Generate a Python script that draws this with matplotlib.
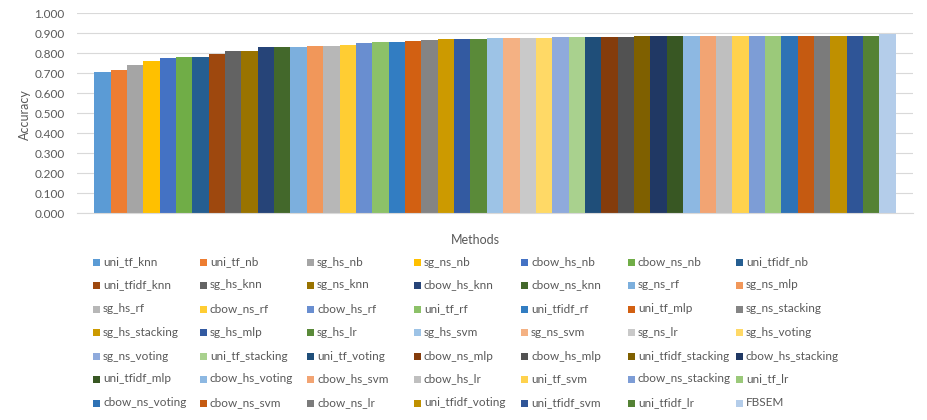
import matplotlib
matplotlib.use('Agg')
import numpy as np
from matplotlib import pyplot as plt
from matplotlib.patches import Rectangle

methods = ['uni_tf_knn', 'uni_tf_nb', 'sg_hs_nb', 'sg_ns_nb', 'cbow_hs_nb', 'cbow_ns_nb', 'uni_tfidf_nb',
           'uni_tfidf_knn', 'sg_hs_knn', 'sg_ns_knn', 'cbow_hs_knn', 'cbow_ns_knn', 'sg_ns_rf', 'sg_ns_mlp',
           'sg_hs_rf', 'cbow_ns_rf', 'cbow_hs_rf', 'uni_tf_rf', 'uni_tfidf_rf', 'uni_tf_mlp', 'sg_ns_stacking',
           'sg_hs_stacking', 'sg_hs_mlp', 'sg_hs_lr', 'sg_hs_svm', 'sg_ns_svm', 'sg_ns_lr', 'sg_hs_voting',
           'sg_ns_voting', 'uni_tf_stacking', 'uni_tf_voting', 'cbow_ns_mlp', 'cbow_hs_mlp', 'uni_tfidf_stacking', 'cbow_hs_stacking',
           'uni_tfidf_mlp', 'cbow_hs_voting', 'cbow_hs_svm', 'cbow_hs_lr', 'uni_tf_svm', 'cbow_ns_stacking', 'uni_tf_lr',
           'cbow_ns_voting', 'cbow_ns_svm', 'cbow_ns_lr', 'uni_tfidf_voting', 'uni_tfidf_svm', 'uni_tfidf_lr', 'FBSEM']

accuracy = [0.703, 0.715, 0.742, 0.762, 0.777, 0.782, 0.782,
            0.795, 0.808, 0.808, 0.828, 0.828, 0.828, 0.835,
            0.835, 0.842, 0.848, 0.853, 0.853, 0.862, 0.867,
            0.868, 0.872, 0.872, 0.873, 0.873, 0.873, 0.873,
            0.878, 0.878, 0.878, 0.878, 0.878, 0.883, 0.883,
            0.883, 0.883, 0.883, 0.883, 0.887, 0.887, 0.887,
            0.887, 0.887, 0.887, 0.887, 0.887, 0.887, 0.895]

# excel office palette, repeated with shades
colors = ['#5B9BD5', '#ED7D31', '#A5A5A5', '#FFC000', '#4472C4', '#70AD47',
          '#255E91', '#9E480E', '#636363', '#997300', '#264478', '#43682B',
          '#7CAFDD', '#F1975A', '#B7B7B7', '#FFCD33', '#698ED0', '#8CC168',
          '#327DC2', '#D26012', '#848484', '#CC9A00', '#335AA1', '#5A8A39',
          '#9DC3E6', '#F4B183', '#C9C9C9', '#FFD966', '#8FAADC', '#A9D18E',
          '#1F4E79', '#843C0C', '#525252', '#7F6000', '#203864', '#385723',
          '#8DB8E2', '#F2A473', '#BFBFBF', '#FFD24D', '#7D9DD6', '#9BC97A',
          '#2E72B5', '#C55A11', '#7B7B7B', '#BF9000', '#2F5597', '#548235',
          '#B4CDEA']

plt.rcParams['font.family'] = ['Lato', 'DejaVu Sans']
fig = plt.figure(figsize=(9.27, 4.2), dpi=100)
ax = fig.add_axes([77/927, 1 - 213/420, (913 - 77)/927, 200/420])

x = np.arange(len(methods))
ax.bar(x, accuracy, width=1.0, color=colors, zorder=2)

ax.set_ylim(0, 1.0)
ax.set_xlim(-0.5 - 1.05, len(methods) - 0.5 + 1.05)
ax.set_yticks(np.arange(0, 1.01, 0.1))
ax.set_yticklabels(['%.3f' % v for v in np.arange(0, 1.01, 0.1)], fontsize=8.5, color='#595959')
ax.set_xticks([])
ax.tick_params(axis='y', length=0, pad=9)
ax.grid(axis='y', color='#D9D9D9', linewidth=0.8, zorder=0)
for s in ['top', 'right', 'left']:
    ax.spines[s].set_visible(False)
ax.spines['bottom'].set_color('#D9D9D9')

fig.text(25/927, 1 - 115/420, 'Accuracy', rotation=90, ha='center', va='center', fontsize=9, color='#595959')
fig.text(475/927, 1 - 240/420, 'Methods', ha='center', va='center', fontsize=9, color='#595959')

# legend laid out row by row like excel
col_x = [93, 200, 307, 414, 521, 628, 736]
row_y = [262, 285, 309, 332, 356, 379, 403]
for i, (m, c) in enumerate(zip(methods, colors)):
    cx = col_x[i % 7]
    cy = row_y[i // 7]
    fig.patches.append(Rectangle((cx/927, 1 - (cy + 3.5)/420), 7/927, 7/420,
                                 transform=fig.transFigure, facecolor=c, edgecolor='none'))
    fig.text((cx + 10)/927, 1 - cy/420, m, ha='left', va='center', fontsize=8.5, color='#595959')

fig.savefig('out.png', dpi=100)
